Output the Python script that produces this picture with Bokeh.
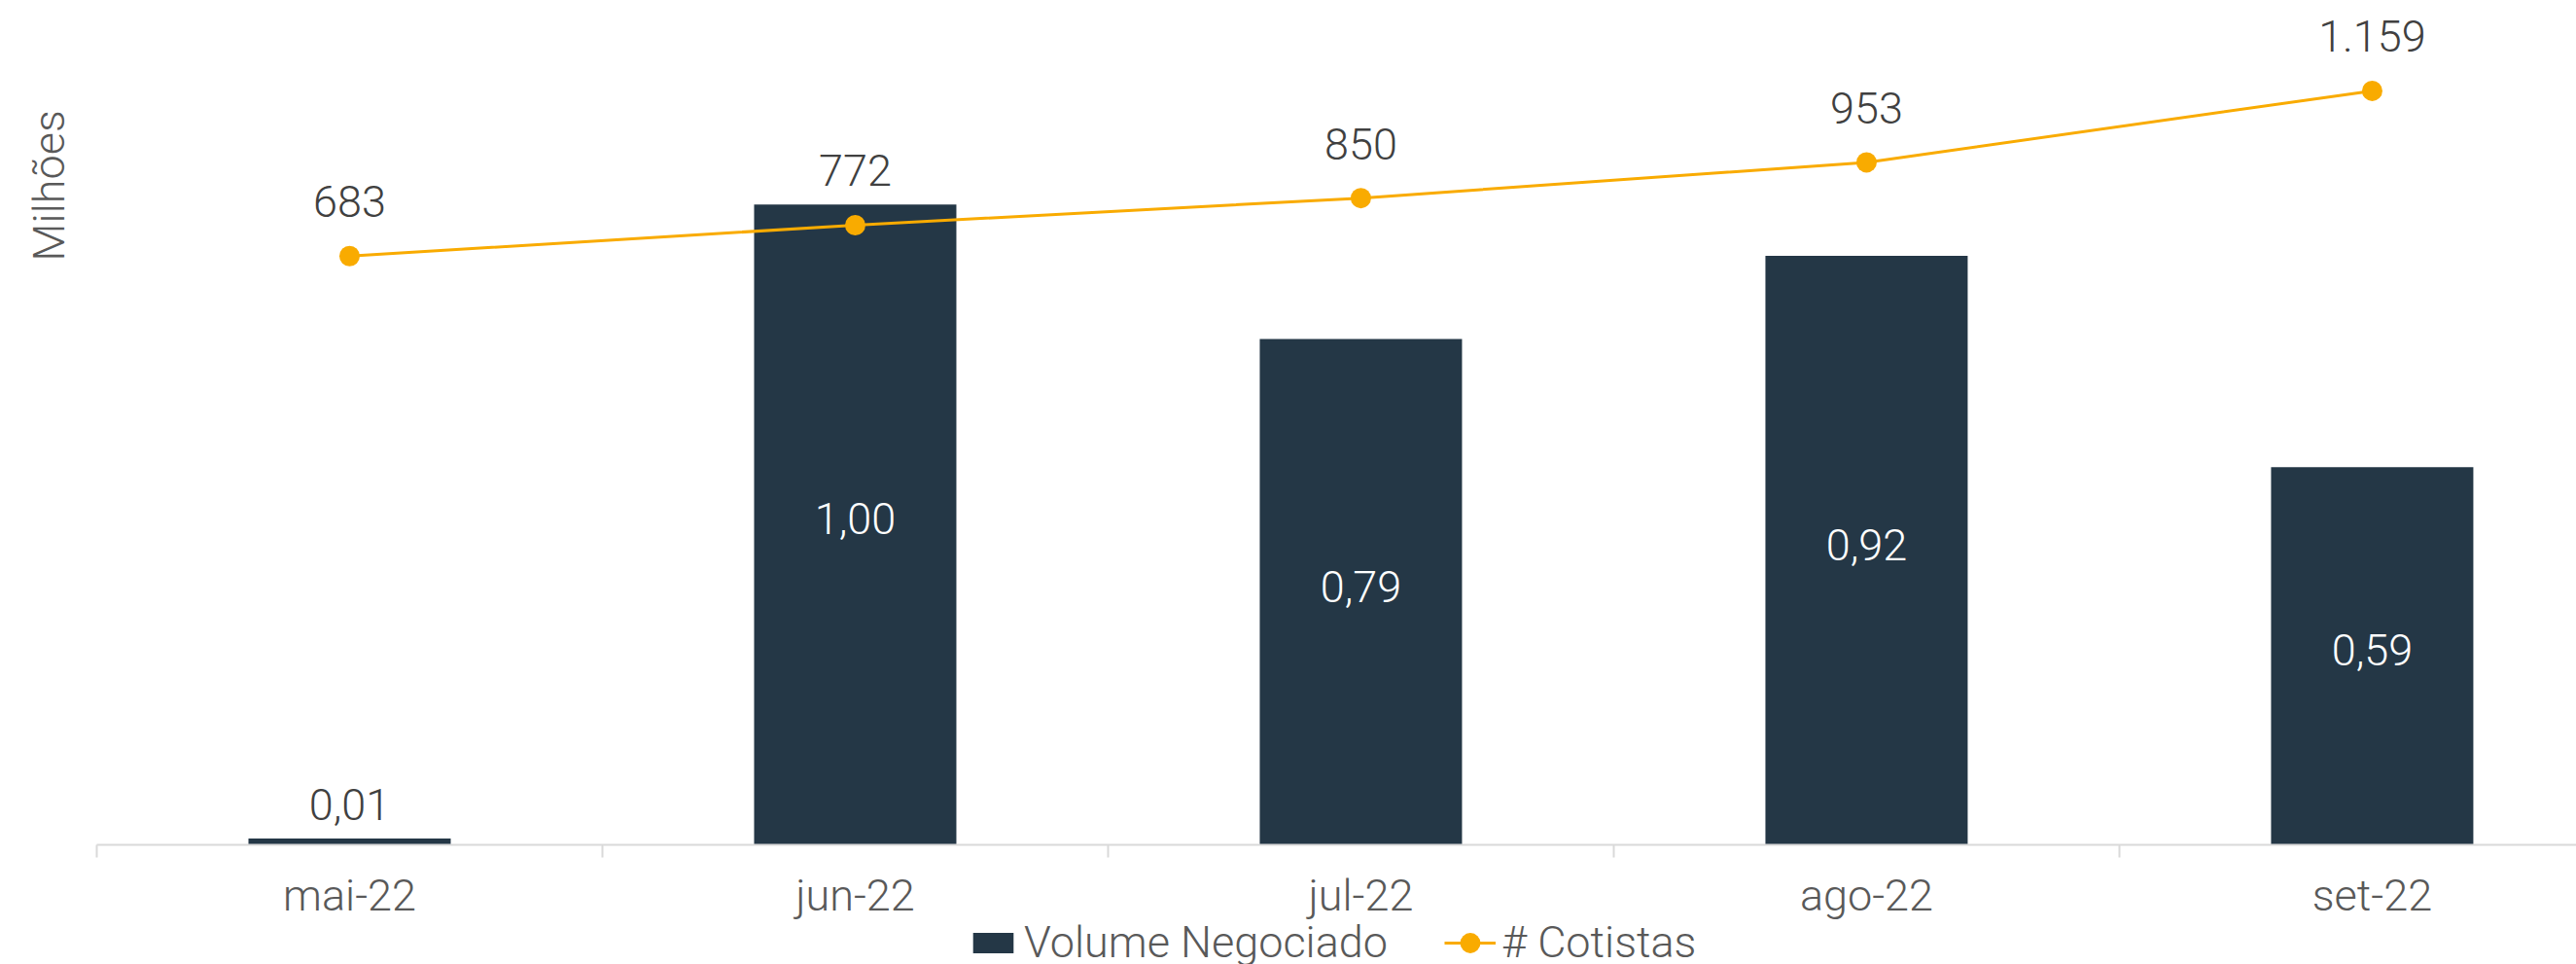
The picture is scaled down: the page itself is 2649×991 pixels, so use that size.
import math
from bokeh.plotting import figure
from bokeh.layouts import column
from bokeh.models import (ColumnDataSource, Range1d, FixedTicker, Legend, LegendItem, Label)
from bokeh.core.properties import value
from bokeh.embed import file_html
from bokeh.resources import INLINE

# ---- data ----
months = ["mai-22", "jun-22", "jul-22", "ago-22", "set-22"]
volume = [0.01, 1.00, 0.79, 0.92, 0.59]          # Volume Negociado (milhões)
cotistas = [683, 772, 850, 953, 1159]             # # Cotistas
series_names = ["Volume Negociado", "# Cotistas"]
unit_title = "Milhões"

BAR = "#243746"
LINE = "#F9AB00"
DARK = "#404040"
GREY = "#595959"
FONT_NAME = "'Roboto Light', Roboto"
FONT = value(FONT_NAME)
FS = "45px"

xs = [i + 0.5 for i in range(len(months))]
vol_lbl = [f"{v:.2f}".replace(".", ",") for v in volume]
cot_lbl = [f"{c:,}".replace(",", ".") for c in cotistas]
inside = [v >= 0.1 for v in volume]

src = ColumnDataSource(dict(
    x=xs, vol=volume, cot=cotistas, vol_lbl=vol_lbl, cot_lbl=cot_lbl,
    lbl_y=[v / 2 if ins else v for v, ins in zip(volume, inside)],
    lbl_off=[-6 if ins else -35 for ins in inside],
    lbl_col=["white" if ins else DARK for ins in inside],
))

W = 2649
H_MAIN = 949
X_END = 4.904
p = figure(width=W, height=H_MAIN, output_backend="svg", toolbar_location=None,
           x_range=Range1d(-99 / 520, X_END), y_range=Range1d(0, 1.3187),
           y_axis_location=None, min_border_left=0, min_border_right=0,
           min_border_top=0, min_border_bottom=80)
p.outline_line_color = None
p.xgrid.visible = False
p.ygrid.visible = False
p.extra_y_ranges = {"cot": Range1d(-1014, 1419.5)}

bars = p.vbar(x="x", top="vol", width=0.4, source=src, fill_color=BAR, line_color=None)
ln = p.line(x="x", y="cot", source=src, line_color=LINE, line_width=3, y_range_name="cot")
sc = p.scatter(x="x", y="cot", source=src, size=21, fill_color=LINE, line_color=None,
               y_range_name="cot")

p.text(x="x", y="lbl_y", text="vol_lbl", source=src, y_offset="lbl_off",
       text_color="lbl_col", text_font=FONT, text_font_size=FS,
       text_align="center", text_baseline="alphabetic")
p.text(x="x", y="cot", text="cot_lbl", source=src, y_offset=-56, y_range_name="cot",
       text_color=DARK, text_font=FONT, text_font_size=FS,
       text_align="center", text_baseline="alphabetic")

ax = p.xaxis[0]
ax.bounds = (0, X_END)
ax.ticker = FixedTicker(ticks=xs, minor_ticks=list(range(len(months) + 1)))
ax.major_label_overrides = {x: m for x, m in zip(xs, months)}
ax.axis_line_color = "#D9D9D9"
ax.axis_line_width = 2
ax.major_tick_line_color = None
ax.major_tick_out = 0
ax.major_tick_in = 0
ax.minor_tick_line_color = "#D9D9D9"
ax.minor_tick_line_width = 2
ax.minor_tick_out = 13
ax.minor_tick_in = 0
ax.major_label_standoff = 12
ax.major_label_text_font = FONT_NAME
ax.major_label_text_font_size = FS
ax.major_label_text_color = GREY

p.add_layout(Label(x=-0.0942, y=1.0296, text=unit_title, angle=math.pi / 2,
                   text_align="center", text_baseline="middle", text_font=FONT_NAME,
                   text_font_size=FS, text_color=GREY))

# ---- legend strip (proxy renderers out of view, used only for legend glyphs) ----
p2 = figure(width=W, height=991 - H_MAIN, output_backend="svg", toolbar_location=None,
            x_range=Range1d(-3, -2), y_range=Range1d(-3, -2),
            x_axis_location=None, y_axis_location=None, min_border=0)
p2.outline_line_color = None
p2.xgrid.visible = False
p2.ygrid.visible = False
lb = p2.vbar(x="x", top="vol", width=0.4, source=src, fill_color=BAR, line_color=None)
ll = p2.line(x="x", y="cot", source=src, line_color=LINE, line_width=3)
ls = p2.scatter(x="x", y="cot", source=src, size=21, fill_color=LINE, line_color=None)

common = dict(orientation="horizontal", label_standoff=6, padding=0, margin=0,
              border_line_color=None, background_fill_alpha=0,
              label_text_font=FONT_NAME, label_text_font_size=FS, label_text_color=GREY)
leg_a = Legend(items=[LegendItem(label=series_names[0], renderers=[lb])],
               location=(995, -4), glyph_width=52, glyph_height=26, **common)
leg_b = Legend(items=[LegendItem(label=series_names[1], renderers=[ll, ls])],
               location=(1485, -4), glyph_width=53, glyph_height=52, **common)
p2.add_layout(leg_a)
p2.add_layout(leg_b)

layout = column(p, p2, spacing=0)
open("out.html", "w").write(file_html(layout, INLINE))
